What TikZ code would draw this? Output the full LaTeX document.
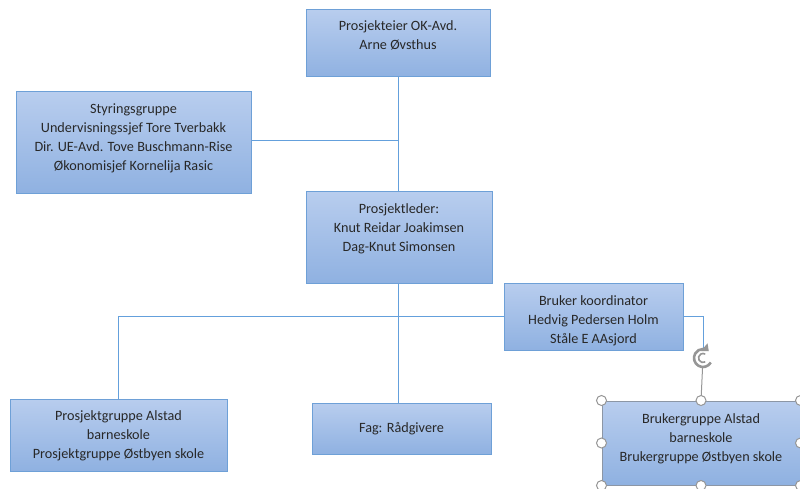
\documentclass[tikz,border=0pt]{standalone}
\usepackage{fontspec}
\setmainfont{Carlito}
\usetikzlibrary{arrows.meta,calc}
\definecolor{boxtop}{RGB}{184,205,238}
\definecolor{boxbot}{RGB}{143,177,225}
\definecolor{boxline}{RGB}{110,160,215}
\definecolor{conn}{RGB}{100,160,220}
\definecolor{txt}{RGB}{40,40,40}
\definecolor{selline}{RGB}{140,150,165}
\definecolor{handle}{RGB}{150,150,150}
\tikzset{
  box/.style={draw=boxline, line width=1pt, top color=boxtop, bottom color=boxbot, rectangle, inner sep=0pt},
  selbox/.style={draw=selline, line width=1pt, top color=boxtop, bottom color=boxbot, rectangle, inner sep=0pt},
  lbl/.style={anchor=north, align=center, inner sep=0pt, text=txt, font=\fontsize{14.2}{19}\selectfont},
  conline/.style={draw=conn, line width=1pt},
  hnd/.style={draw=handle, fill=white, line width=1pt, circle, minimum size=10pt, inner sep=0pt},
}
\begin{document}
\begin{tikzpicture}[x=1pt,y=-1pt]
\useasboundingbox (0,0) rectangle (800,489);
% boxes
\node[box, minimum width=184pt, minimum height=67pt] (top) at (398,43.5) {};
\node[box, minimum width=235pt, minimum height=102pt] (sty) at (133.5,143) {};
\node[box, minimum width=186pt, minimum height=91pt] (pl) at (399,237.5) {};
\node[box, minimum width=179pt, minimum height=67pt] (bk) at (593.5,316.5) {};
\node[box, minimum width=217pt, minimum height=72pt] (pg) at (118.5,435) {};
\node[box, minimum width=179pt, minimum height=51pt] (fag) at (401.5,428.5) {};
\node[selbox, minimum width=198pt, minimum height=84pt] (bg) at (701,443) {};
% texts
\node[lbl] (ttop) at ([yshift=-10.5pt]top.north) {Prosjekteier OK-Avd.\\Arne Øvsthus};
\node[lbl] (tsty) at ([yshift=-12pt]sty.north) {Styringsgruppe\\Undervisningssjef Tore Tverbakk\\Dir. UE-Avd. Tove Buschmann-Rise\\Økonomisjef Kornelija Rasic};
\node[lbl] (tpl) at ([yshift=-11.5pt]pl.north) {Prosjektleder:\\Knut Reidar Joakimsen\\Dag-Knut Simonsen};
\node[lbl] (tbk) at ([yshift=-12.5pt]bk.north) {Bruker koordinator\\Hedvig Pedersen Holm\\Ståle E AAsjord};
\node[lbl] (tpg) at ([yshift=-12pt]pg.north) {Prosjektgruppe Alstad\\barneskole\\Prosjektgruppe Østbyen skole};
\node[lbl, anchor=center] (tfag) at (fag.center) {Fag: Rådgivere};
\node[lbl] (tbg) at ([yshift=-13pt]bg.north) {Brukergruppe Alstad\\barneskole\\Brukergruppe Østbyen skole};
% connectors
\coordinate (rot) at (703,358);
\draw[conline] (top.south) -- (top.south |- pl.north);
\draw[conline] (sty.east |- 0,141) -- (top.south |- 0,141);
\draw[conline] (top.south |- pl.south) -- (top.south |- fag.north);
\draw[conline] (pg.north) |- (bk.west);
\draw[conline] (bk.east) -| (rot);
\draw[draw=handle, line width=1pt] (rot) -- (bg.north);
% rotate icon
\fill[white] (rot) circle (10pt);
\draw[handle, line width=2.6pt, -{Triangle[length=6pt,width=10pt]}] ([shift={(-30:9pt)}]rot) arc[start angle=-30, end angle=-310, radius=9pt];
\draw[handle, line width=1.6pt] ([shift={(-60:4.5pt)}]rot) arc[start angle=-60, end angle=-300, radius=4.5pt];
% handles
\foreach \a in {north west,north,north east,west,east,south west,south,south east}
  \node[hnd] at (bg.\a) {};
\end{tikzpicture}
\end{document}
